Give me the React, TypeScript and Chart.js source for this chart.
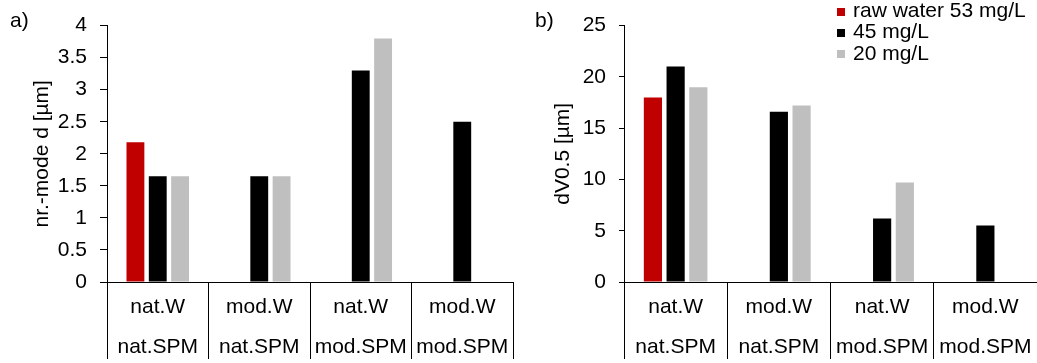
import React, { useEffect, useRef } from "react";
import { Chart, registerables } from "chart.js";

Chart.register(...registerables);

// ---- data ----
const categories: string[][] = [
  ["nat.W", "nat.SPM"],
  ["mod.W", "nat.SPM"],
  ["nat.W", "mod.SPM"],
  ["mod.W", "mod.SPM"],
];
const seriesLabels = ["raw water 53 mg/L", "45 mg/L", "20 mg/L"];
const seriesColors = ["#C00000", "#000000", "#BFBFBF"];

// panel a) nr.-mode d [µm]
const modeRaw = [2.18, null, null, null];
const mode45 = [1.65, 1.65, 3.3, 2.5];
const mode20 = [1.65, 1.65, 3.8, null];

// panel b) dV0.5 [µm]
const dvRaw = [18.0, null, null, null];
const dv45 = [21.0, 16.6, 6.2, 5.5];
const dv20 = [19.0, 17.2, 9.7, null];

const panelLetters = ["a)", "b)"];
const yTitles = ["nr.-mode d [µm]", "dV0.5 [µm]"];
const yMaxes = [4, 25];
const ySteps = [0.5, 5];

const FONT = "'Liberation Sans', Arial, Helvetica, sans-serif";
const FS = 21;

type PanelProps = {
  left: number;
  width: number;
  height: number;
  series: (number | null)[][];
  yMax: number;
  yStep: number;
  yTitle: string;
  titlePad: number;
  yAxisWidth: number;
  padRight: number;
  padTop: number;
  xAxisHeight: number;
  yTickLen: number;
};

function BarPanel(p: PanelProps) {
  const ref = useRef<HTMLCanvasElement | null>(null);
  useEffect(() => {
    if (!ref.current) return;
    const chart = new Chart(ref.current, {
      type: "bar",
      data: {
        labels: categories,
        datasets: p.series.map((vals, i) => ({
          label: seriesLabels[i],
          data: vals,
          backgroundColor: seriesColors[i],
          borderWidth: 0,
          categoryPercentage: 0.66,
          barPercentage: 0.8,
        })),
      },
      options: {
        responsive: false,
        animation: false,
        devicePixelRatio: 1,
        layout: { padding: { top: p.padTop, right: p.padRight, left: 0, bottom: 0 } },
        plugins: { legend: { display: false }, title: { display: false }, tooltip: { enabled: false } },
        scales: {
          x: {
            type: "category",
            offset: true,
            grid: {
              offset: true,
              drawOnChartArea: false,
              drawTicks: true,
              tickLength: 77,
              color: "#000",
              lineWidth: 1,
            },
            border: { display: true, color: "#000", width: 1 },
            ticks: {
              color: "#000",
              font: { family: FONT, size: FS, lineHeight: 1.9 },
              padding: -72,
              maxRotation: 0,
              minRotation: 0,
              autoSkip: false,
            },
            afterFit: (s: any) => {
              s.height = p.xAxisHeight;
            },
          },
          y: {
            min: 0,
            max: p.yMax,
            grid: {
              drawOnChartArea: false,
              drawTicks: true,
              tickLength: p.yTickLen,
              color: "#000",
              lineWidth: 1,
            },
            border: { display: true, color: "#000", width: 1 },
            ticks: {
              stepSize: p.yStep,
              color: "#000",
              font: { family: FONT, size: FS },
              padding: 13,
              callback: (v: any) => String(v),
            },
            title: {
              display: true,
              text: p.yTitle,
              color: "#000",
              font: { family: FONT, size: FS },
              padding: { top: p.titlePad, bottom: 0 },
            },
            afterFit: (s: any) => {
              s.width = p.yAxisWidth;
            },
          },
        },
      },
    } as any);
    return () => chart.destroy();
  }, []);
  return (
    <canvas
      ref={ref}
      width={p.width}
      height={p.height}
      style={{ position: "absolute", left: p.left, top: 0, width: p.width, height: p.height, display: "block" }}
    />
  );
}

const textStyle: React.CSSProperties = {
  position: "absolute",
  fontFamily: FONT,
  fontSize: FS,
  lineHeight: "24px",
  color: "#000",
  whiteSpace: "nowrap",
};

export default function App() {
  return (
    <div
      style={{
        position: "fixed",
        left: 0,
        top: 0,
        width: 1037,
        height: 363,
        background: "#fff",
        overflow: "hidden",
      }}
    >
      <BarPanel
        left={0}
        width={518}
        height={363}
        series={[modeRaw, mode45, mode20]}
        yMax={yMaxes[0]}
        yStep={ySteps[0]}
        yTitle={yTitles[0]}
        titlePad={30}
        yAxisWidth={107}
        padRight={5}
        padTop={25}
        xAxisHeight={81}
        yTickLen={7}
      />
      <BarPanel
        left={518}
        width={519}
        height={363}
        series={[dvRaw, dv45, dv20]}
        yMax={yMaxes[1]}
        yStep={ySteps[1]}
        yTitle={yTitles[1]}
        titlePad={33}
        yAxisWidth={106}
        padRight={0}
        padTop={24}
        xAxisHeight={81}
        yTickLen={5}
      />
      <div style={{ ...textStyle, left: 10, top: 8 }}>{panelLetters[0]}</div>
      <div style={{ ...textStyle, left: 535, top: 8 }}>{panelLetters[1]}</div>
      {seriesLabels.map((lab, i) => (
        <React.Fragment key={lab}>
          <div
            style={{
              position: "absolute",
              left: 837,
              top: 8 + i * 21.2,
              width: 8,
              height: 8,
              background: seriesColors[i],
            }}
          />
          <div style={{ ...textStyle, left: 853, top: -2.3 + i * 21.4 }}>{lab}</div>
        </React.Fragment>
      ))}
    </div>
  );
}
